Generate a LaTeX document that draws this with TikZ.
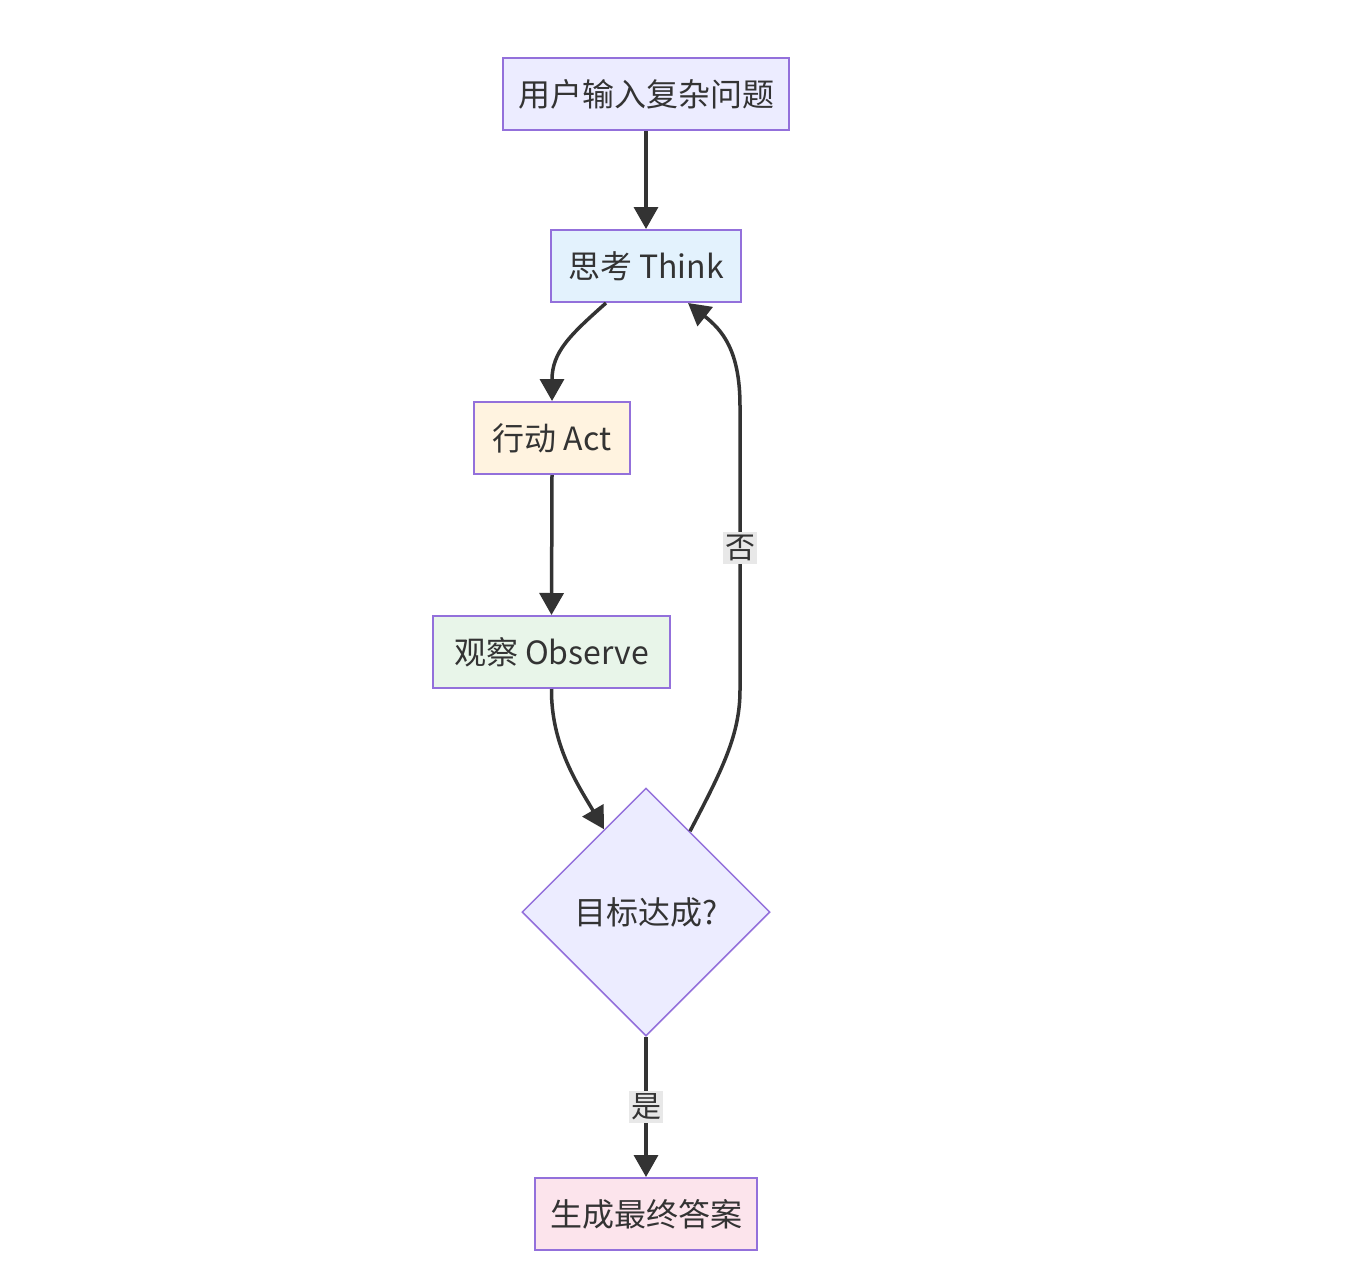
\documentclass[tikz,border=0pt]{standalone}
\usepackage{fontspec}
\setmainfont{Noto Sans CJK SC}
\usetikzlibrary{shapes.geometric,arrows.meta,calc}
\definecolor{bordc}{HTML}{9370DB}
\definecolor{txtc}{HTML}{333333}
\definecolor{fA}{HTML}{ECECFF}
\definecolor{fB}{HTML}{E3F2FD}
\definecolor{fC}{HTML}{FFF3E0}
\definecolor{fD}{HTML}{E8F5E9}
\definecolor{fF}{HTML}{FCE4EC}
\definecolor{lblbg}{HTML}{E8E8E8}
\tikzset{
  stepbox/.style={draw=bordc, line width=2pt, minimum height=72pt, inner sep=0pt, text=txtc, font=\fontsize{32}{38}\selectfont},
  decision/.style={diamond, draw=bordc, line width=1.5pt, fill=fA, minimum width=248pt, minimum height=248pt, inner sep=0pt, text=txtc, font=\fontsize{32}{38}\selectfont},
  conn/.style={draw=txtc, line width=3.5pt, -{Triangle[length=22pt,width=24pt]}},
  lbl/.style={fill=lblbg, text=txtc, inner xsep=2pt, inner ysep=3pt, font=\fontsize{30}{36}\selectfont}
}
\begin{document}
\begin{tikzpicture}[x=1pt,y=1pt]
\useasboundingbox (0,0) rectangle (1350,-1266);
\node[stepbox, fill=fA, minimum width=286pt] (A) at (646,-94) {用户输入复杂问题};
\node[stepbox, fill=fB, minimum width=190pt] (B) at (646,-266) {思考 Think};
\node[stepbox, fill=fC, minimum width=156pt] (C) at (552,-438) {行动 Act};
\node[stepbox, fill=fD, minimum width=237pt] (D) at (551.5,-652) {观察 Observe};
\node[decision] (E) at (646,-912) {目标达成?};
\node[stepbox, fill=fF, minimum width=222pt] (F) at (646,-1214) {生成最终答案};
\coordinate (Bsw) at ($(B.south)+(-40,0)$);
\coordinate (Bse) at ($(B.south)+(42,0)$);
\coordinate (Eul) at ($(E.north)+(-42,-42)$);
\coordinate (Eur) at ($(E.north)+(44,-44)$);
\draw[conn] (A.south) -- (B.north);
\draw[conn] (Bsw) .. controls (570,-335) and (552,-352) .. (C.north);
\draw[conn] (C.south) -- (D.north);
\draw[conn] (D.south) .. controls (551,-745) and (578,-785) .. (Eul);
\draw[conn] (Eur) .. controls (722,-770) and (740,-735) .. (740,-690) -- node[lbl]{否} (740,-406) .. controls (740,-350) and (722,-330) .. (Bse);
\draw[conn] (E.south) -- node[lbl]{是} (F.north);
\end{tikzpicture}
\end{document}
